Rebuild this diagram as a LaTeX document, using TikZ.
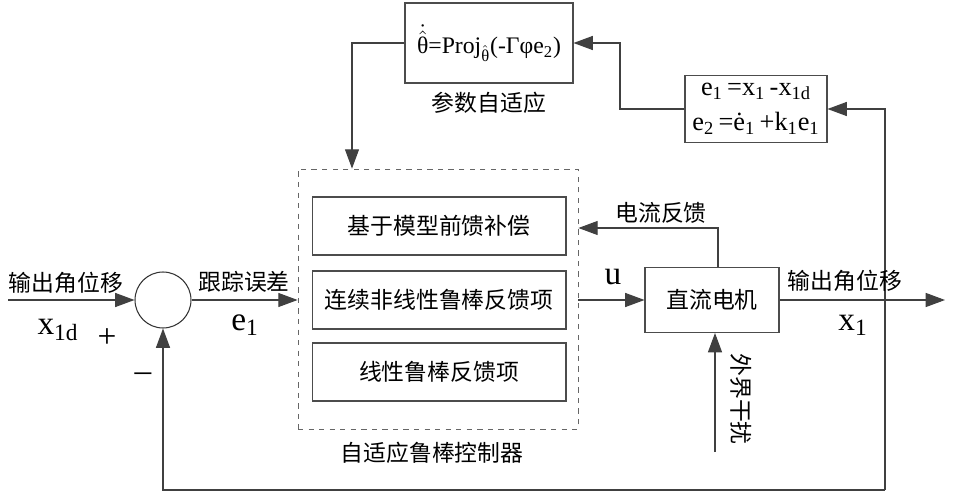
\documentclass[tikz,border=0pt]{standalone}
\usepackage{amsmath}
\usepackage{fontspec}
\setmainfont{Liberation Serif}
\newfontfamily\cjk{Noto Sans CJK SC}
\usepackage{tikz}
\usetikzlibrary{shapes,arrows,positioning,calc,arrows.meta}

\begin{document}
\begin{tikzpicture}[x=0.02cm, y=-0.02cm,
    line/.style={draw=black!75, line width=0.6pt},
    arr/.style={line, -{Triangle[length=11pt,width=8pt]}},
    block/.style={draw=black!70, line width=0.6pt, rectangle, align=center},
    lbl/.style={font=\cjk\fontsize{13}{15}\selectfont, inner sep=0pt},
    sym/.style={font=\fontsize{19}{21}\selectfont, inner sep=0pt}]
    \useasboundingbox (0,0) rectangle (971,500);

    % Adaptive law
    \node[block, font=\fontsize{13.5}{16}\selectfont, minimum width=3.36cm, minimum height=1.6cm] (adapt) at (489,43)
        {$\dot{\hat{\text{θ}}}$=Proj\textsubscript{$\hat{\text{θ}}$}(-Γφe\textsubscript{2})};
    \node[lbl] (adaptlbl) at (489,103) {参数自适应};

    % Error definitions
    \node[block, font=\fontsize{15}{20}\selectfont, minimum width=2.84cm, minimum height=1.34cm, inner sep=1pt] (err) at (756,109)
        {e\textsubscript{1}\,=x\textsubscript{1}\,-x\textsubscript{1d}\\ e\textsubscript{2}\,=\.{e}\textsubscript{1}\,+k\textsubscript{1}e\textsubscript{1}};

    % Controller
    \node[draw=black!60, dashed, line width=0.5pt, minimum width=5.6cm, minimum height=5.2cm] (ctrl) at (438,299) {};
    \node[block, lbl, minimum width=5.08cm, minimum height=1.16cm] (ff) at (439,226) {基于模型前馈补偿};
    \node[block, lbl, minimum width=5.08cm, minimum height=1.16cm] (nlr) at (439,300) {连续非线性鲁棒反馈项};
    \node[block, lbl, minimum width=5.08cm, minimum height=1.16cm] (lr) at (439,372) {线性鲁棒反馈项};
    \node[lbl] (ctrllbl) at (432,453) {自适应鲁棒控制器};

    % Motor
    \node[block, lbl, minimum width=2.68cm, minimum height=1.3cm] (motor) at (712,300) {直流电机};

    % Summing junction
    \node[draw=black!80, line width=0.6pt, circle, minimum size=1.12cm] (sum) at (163,300) {};

    \coordinate (in) at (8,300);
    \coordinate (out) at (945,300);
    \coordinate (dist) at (715,452);
    \coordinate (fb) at (885,490);
    \coordinate (ifb) at (718,228);
    \coordinate (k1) at (620,43);
    \coordinate (k2) at (352,43);

    % Signals
    \draw[arr] (in) -- (sum.west);
    \draw[arr] (sum.east) -- (sum.east -| ctrl.west);
    \draw[arr] (ctrl.east |- motor.west) -- (motor.west);
    \draw[arr] (motor.east) -- (out);
    \draw[arr] (dist) -- (motor.south -| dist);
    \draw[arr] (motor.north -| ifb) -- (ifb) -- (ifb -| ctrl.east);
    \draw[arr] (fb) |- (err.east);
    \draw[arr] (fb) -| (sum.south);
    \draw[arr] (err.west) -| (k1) -- (adapt.east);
    \draw[arr] (adapt.west) -- (k2) -- (k2 |- ctrl.north);

    % Labels
    \node[lbl] (inlbl) at (66,283) {输出角位移};
    \node[sym] (xd) at (58,330) {x\textsubscript{1d}};
    \node[sym] (plus) at (107,338) {+};
    \node[sym] (minus) at (143,377) {--};
    \node[lbl] (errlbl) at (244,282) {跟踪误差};
    \node[sym] (e1) at (245,325) {e\textsubscript{1}};
    \node[sym] (u) at (613,277) {u};
    \node[lbl] (ifblbl) at (661,213) {电流反馈};
    \node[lbl] (outlbl) at (845,281) {输出角位移};
    \node[sym] (x1) at (853,325) {x\textsubscript{1}};
    \node[lbl, rotate=-90] (distlbl) at (741,399) {外界干扰};
\end{tikzpicture}
\end{document}
